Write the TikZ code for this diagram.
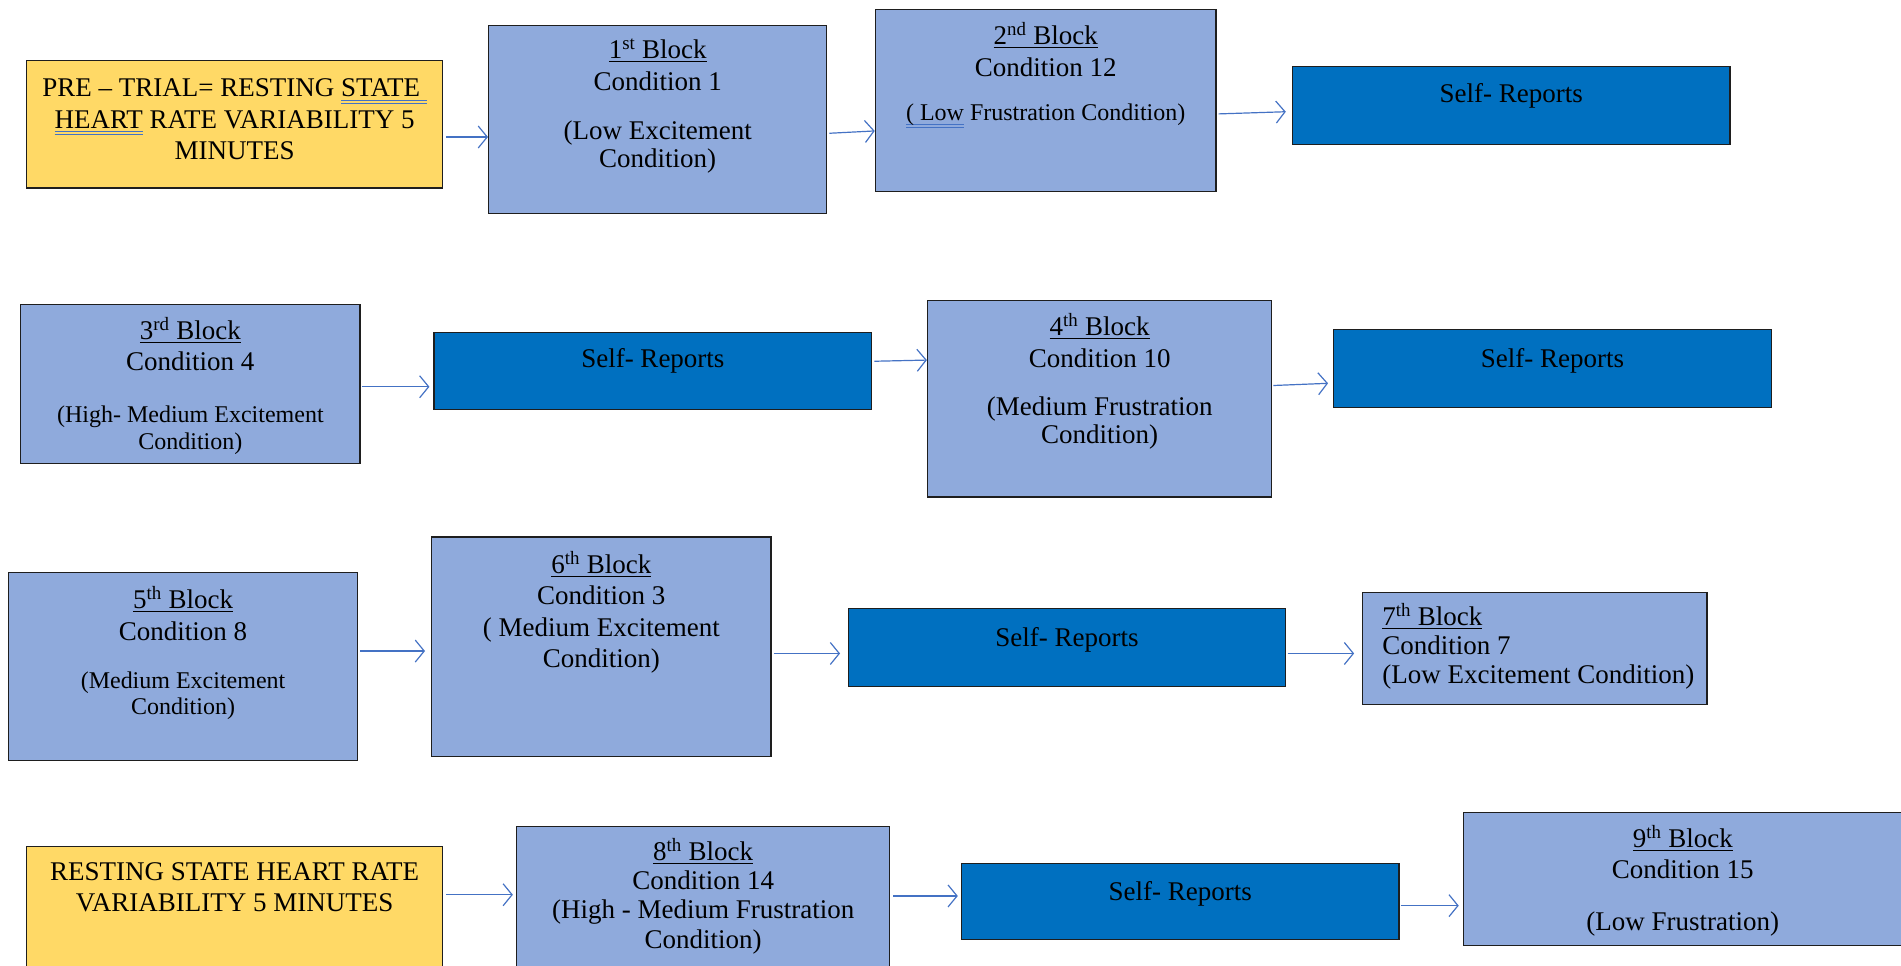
\documentclass[tikz,border=0pt]{standalone}
\usepackage{fontspec}
\setmainfont{Liberation Serif}
\usetikzlibrary{arrows.meta,fit}
\definecolor{yel}{HTML}{FFD966}
\definecolor{lblue}{HTML}{8FAADC}
\definecolor{dblue}{HTML}{0070C0}
\definecolor{ablue}{HTML}{4472C4}
\definecolor{ulblue}{HTML}{4472C4}
\definecolor{bord}{HTML}{1E1E1E}
\newsavebox\ulbox
\newcommand\ulblk[1]{\sbox\ulbox{#1}\rlap{\rule[-3.5pt]{\wd\ulbox}{1.3pt}}\usebox\ulbox}
\newcommand\gramul[1]{\sbox\ulbox{#1}\rlap{\color{ulblue}\rule[-4pt]{\wd\ulbox}{1pt}\hskip-\wd\ulbox\rule[-7pt]{\wd\ulbox}{1pt}}\usebox\ulbox}
\newcommand\sm{\fontsize{24}{28}\selectfont}
\begin{document}
\begin{tikzpicture}[x=1.2124pt,y=-1.2124pt,
  boxbase/.style={draw=bord,line width=1.2pt,inner sep=0pt},
  ybox/.style={boxbase,fill=yel},
  lbox/.style={boxbase,fill=lblue},
  dbox/.style={boxbase,fill=dblue},
  txt/.style={font=\fontsize{27}{31.5}\selectfont,align=center,anchor=north,inner sep=0pt,text=black},
  arr/.style={draw=ablue,line width=1.2pt,-{Straight Barb[length=9pt,width=22pt,line width=1.2pt]}}]
\useasboundingbox (0,0) rectangle (1568,796);
\clip (0,0) rectangle (1568,796);
% row 1
\node[ybox,fit={(22,50) (365,155)}] (y1) {};
\node[lbox,fit={(403,21) (682,176)}] (b1) {};
\node[lbox,fit={(722,8) (1003,158)}] (b2) {};
\node[dbox,fit={(1066,55) (1427,119)}] (sr1) {};
% row 2
\node[lbox,fit={(17,251) (297,382)}] (b3) {};
\node[dbox,fit={(358,274) (719,338)}] (sr2) {};
\node[lbox,fit={(765,248) (1049,410)}] (b4) {};
\node[dbox,fit={(1100,272) (1461,336)}] (sr3) {};
% row 3
\node[lbox,fit={(7,472) (295,627)}] (b5) {};
\node[lbox,fit={(356,443) (636,624)}] (b6) {};
\node[dbox,fit={(700,502) (1060,566)}] (sr4) {};
\node[lbox,fit={(1124,489) (1408,581)}] (b7) {};
% row 4
\node[ybox,fit={(22,698) (365,830)}] (y2) {};
\node[lbox,fit={(426,682) (734,830)}] (b8) {};
\node[dbox,fit={(793,712) (1154,775)}] (sr5) {};
\node[lbox,fit={(1207,670) (1575,780)}] (b9) {};
% texts
\node[txt] (y1t) at (193.5,65) {PRE – TRIAL= RESTING \gramul{STATE\ }\\\gramul{HEART} RATE VARIABILITY 5\\MINUTES};
\node[txt] (b1t) at (542.5,32) {\ulblk{1\textsuperscript{st} Block}\\Condition 1\\[18.2pt](Low Excitement\\[-3.6pt]Condition)};
\node[txt] (b2t) at (862.5,18.5) {\ulblk{2\textsuperscript{nd} Block}\\Condition 12\\[13pt]{\sm\gramul{( Low} Frustration Condition)}};
\node[txt] (sr1t) at (1246.5,69) {Self- Reports};
\node[txt] (b3t) at (157,261.5) {\ulblk{3\textsuperscript{rd} Block}\\Condition 4\\[20pt]{\sm (High- Medium Excitement}\\[-4.8pt]{\sm Condition)}};
\node[txt] (sr2t) at (538.5,287) {Self- Reports};
\node[txt] (b4t) at (907,258.5) {\ulblk{4\textsuperscript{th} Block}\\Condition 10\\[17pt](Medium Frustration\\[-3.6pt]Condition)};
\node[txt] (sr3t) at (1280.5,287) {Self- Reports};
\node[txt] (b5t) at (151,483.5) {\ulblk{5\textsuperscript{th} Block}\\Condition 8\\[17pt]{\sm (Medium Excitement}\\[-6pt]{\sm Condition)}};
\node[txt] (b6t) at (496,454.5) {\ulblk{6\textsuperscript{th} Block}\\Condition 3\\( Medium Excitement\\Condition)};
\node[txt] (sr4t) at (880,517) {Self- Reports};
\node[txt,anchor=north west,align=left] (b7t) at (1140,497.5) {\ulblk{7\textsuperscript{th} Block}\\[-2.4pt]Condition 7\\[-2.4pt](Low Excitement Condition)};
\node[txt] (y2t) at (193.5,711) {RESTING STATE HEART RATE\\VARIABILITY 5 MINUTES};
\node[txt] (b8t) at (580,691.5) {\ulblk{8\textsuperscript{th} Block}\\[-2.4pt]Condition 14\\[-2.4pt](High - Medium Frustration\\[-2.4pt]Condition)};
\node[txt] (sr5t) at (973.5,727) {Self- Reports};
\node[txt] (b9t) at (1388,680.5) {\ulblk{9\textsuperscript{th} Block}\\Condition 15\\[20pt](Low Frustration)};
% arrows
\draw[arr,shorten <=3pt] (y1.east |- 0,113) -- (b1.west |- 0,113);
\draw[arr,shorten <=2pt] (b1.east |- 0,110) -- (b2.west |- 0,108);
\draw[arr,shorten <=2pt,shorten >=6pt] (b2.east |- 0,94) -- (sr1.west |- 0,92);
\draw[arr,shorten <=1pt,shorten >=4pt] (b3.east |- 0,319) -- (sr2.west |- 0,319);
\draw[arr,shorten <=2pt] (sr2.east |- 0,298) -- (b4.west |- 0,297);
\draw[arr,shorten <=1pt,shorten >=5pt] (b4.east |- 0,318) -- (sr3.west |- 0,316);
\draw[arr,shorten <=2pt,shorten >=6pt] (b5.east |- 0,537) -- (b6.west |- 0,537);
\draw[arr,shorten <=2pt,shorten >=8pt] (b6.east |- 0,539) -- (sr4.west |- 0,539);
\draw[arr,shorten <=2pt,shorten >=8pt] (sr4.east |- 0,539) -- (b7.west |- 0,539);
\draw[arr,shorten <=3pt,shorten >=3pt] (y2.east |- 0,738) -- (b8.west |- 0,738);
\draw[arr,shorten <=3pt,shorten >=3pt] (b8.east |- 0,739) -- (sr5.west |- 0,739);
\draw[arr,shorten <=1pt,shorten >=4pt] (sr5.east |- 0,747) -- (b9.west |- 0,747);
\end{tikzpicture}
\end{document}
